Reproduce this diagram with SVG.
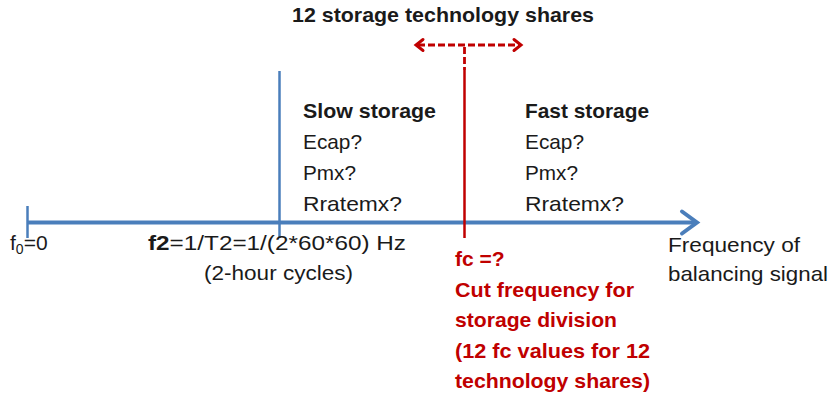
<svg xmlns="http://www.w3.org/2000/svg" width="835" height="398" viewBox="0 0 835 398">
<style>
text{font-family:"Liberation Sans",Arial,sans-serif;font-size:21px;fill:#1a1a1a}
.b{font-weight:bold}
.r{fill:#c00000;font-weight:bold}
.blue{stroke:#4a7ebb;fill:none}
.red{stroke:#c00000;fill:none}
</style>
<g id="connectors">
<line class="blue" x1="27" y1="222.5" x2="697" y2="222.5" stroke-width="4"/>
<path class="blue" d="M682,211.5 L697,222.5 L682,233.5" stroke-width="4" stroke-linecap="round" stroke-linejoin="miter"/>
<line class="blue" x1="27.5" y1="206" x2="27.5" y2="238" stroke-width="2.5"/>
<line class="blue" x1="279.5" y1="71" x2="279.5" y2="238" stroke-width="2.5"/>
<line class="red" x1="464.5" y1="70" x2="464.5" y2="238" stroke-width="2.5"/>
<line class="red" x1="464.5" y1="47" x2="464.5" y2="70" stroke-width="2.8" stroke-dasharray="7,3"/>
<line class="red" x1="418" y1="45" x2="520" y2="45" stroke-width="2.8" stroke-dasharray="7,3"/>
<path class="red" d="M423,39.5 L416,45 L423,50.5" stroke-width="3" stroke-linecap="round"/>
<path class="red" d="M514,39.5 L521,45 L514,50.5" stroke-width="3" stroke-linecap="round"/>
</g>
<g id="title"><text class="b" x="292" y="22" textLength="302" lengthAdjust="spacingAndGlyphs">12 storage technology shares</text></g>
<g id="slow">
<text class="b" x="303" y="118" textLength="133" lengthAdjust="spacingAndGlyphs">Slow storage</text>
<text x="303" y="149" textLength="59" lengthAdjust="spacingAndGlyphs">Ecap?</text>
<text x="303" y="180" textLength="53" lengthAdjust="spacingAndGlyphs">Pmx?</text>
<text x="303" y="211" textLength="99" lengthAdjust="spacingAndGlyphs">Rratemx?</text>
</g>
<g id="fast">
<text class="b" x="525" y="118" textLength="124" lengthAdjust="spacingAndGlyphs">Fast storage</text>
<text x="525" y="149" textLength="59" lengthAdjust="spacingAndGlyphs">Ecap?</text>
<text x="525" y="180" textLength="53" lengthAdjust="spacingAndGlyphs">Pmx?</text>
<text x="525" y="211" textLength="99" lengthAdjust="spacingAndGlyphs">Rratemx?</text>
</g>
<g id="f0"><text x="10" y="250">f<tspan font-size="14" dy="4">0</tspan><tspan dy="-4">=0</tspan></text></g>
<g id="f2">
<text x="148" y="250" textLength="258" lengthAdjust="spacingAndGlyphs"><tspan class="b">f2</tspan>=1/T2=1/(2*60*60) Hz</text>
<text x="204" y="280" textLength="149" lengthAdjust="spacingAndGlyphs">(2-hour cycles)</text>
</g>
<g id="fc">
<text class="r" x="455" y="266">fc =?</text>
<text class="r" x="455" y="297" textLength="179" lengthAdjust="spacingAndGlyphs">Cut frequency for</text>
<text class="r" x="455" y="327" textLength="162" lengthAdjust="spacingAndGlyphs">storage division</text>
<text class="r" x="455" y="358" textLength="195" lengthAdjust="spacingAndGlyphs">(12 fc values for 12</text>
<text class="r" x="455" y="388" textLength="195" lengthAdjust="spacingAndGlyphs">technology shares)</text>
</g>
<g id="axislabel">
<text x="668" y="252" textLength="132" lengthAdjust="spacingAndGlyphs">Frequency of</text>
<text x="668" y="281" textLength="160" lengthAdjust="spacingAndGlyphs">balancing signal</text>
</g>
</svg>
